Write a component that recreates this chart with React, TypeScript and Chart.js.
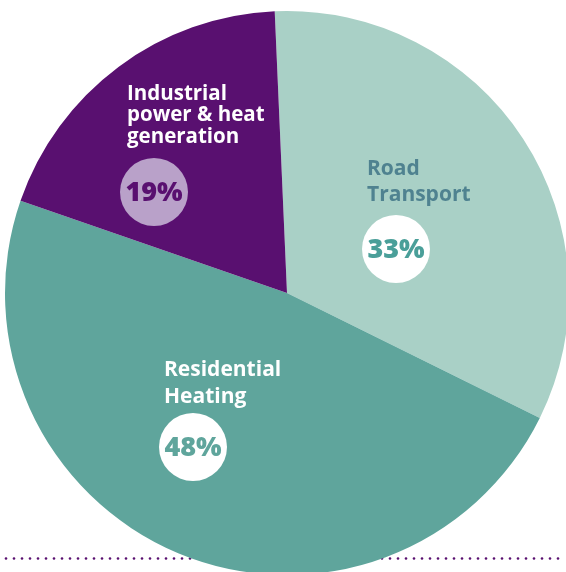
import React, { useEffect, useRef } from "react";
import { Chart, registerables } from "chart.js";

Chart.register(...registerables);

const categories = ["Road Transport", "Residential Heating", "Industrial power & heat generation"];
const labelLines = [["Road", "Transport"], ["Residential", "Heating"], ["Industrial", "power & heat", "generation"]];
const shares = [33, 48, 19];
const sliceColors = ["#a9d0c6", "#5fa59c", "#591070"];
const nameColors = ["#4f8290", "#ffffff", "#ffffff"];
const badgeFill = ["#ffffff", "#ffffff", "#b9a1c9"];
const badgeText = ["#4a9f99", "#5fa59c", "#591070"];
// label layout relative to pie center (px)
const textOffsets = [[80, -124], [-123, 77], [-160, -199]];
const lineGaps = [26, 27, 21.5];
const nameSizes = [21, 21, 20.5];
const badgeOffsets = [[109, -44], [-94, 154], [-133, -101]];

const labelPlugin = {
  id: "sliceLabels",
  beforeDraw(chart: any) {
    const ctx = chart.ctx;
    ctx.save();
    ctx.fillStyle = "#591070";
    for (let x = 6; x <= 564; x += 8) {
      ctx.beginPath();
      ctx.arc(x, 558.5, 1.3, 0, Math.PI * 2);
      ctx.fill();
    }
    ctx.restore();
  },
  afterDatasetsDraw(chart: any) {
    const ctx = chart.ctx;
    const arc = chart.getDatasetMeta(0).data[0];
    const cx = arc.x;
    const cy = arc.y;
    ctx.save();
    shares.forEach((v, i) => {
      const [tx, ty] = textOffsets[i];
      ctx.font = `bold ${nameSizes[i]}px 'Open Sans'`;
      ctx.fillStyle = nameColors[i];
      ctx.textAlign = "left";
      ctx.textBaseline = "middle";
      labelLines[i].forEach((line, j) => {
        ctx.fillText(line, cx + tx, cy + ty + j * lineGaps[i]);
      });
      const [bx, by] = badgeOffsets[i];
      ctx.beginPath();
      ctx.arc(cx + bx, cy + by, 34, 0, Math.PI * 2);
      ctx.fillStyle = badgeFill[i];
      ctx.fill();
      ctx.font = "800 27px 'Open Sans'";
      ctx.fillStyle = badgeText[i];
      ctx.textAlign = "center";
      ctx.fillText(v + "%", cx + bx, cy + by + 1);
    });
    ctx.restore();
  },
};

export default function App() {
  const ref = useRef<HTMLCanvasElement>(null);
  useEffect(() => {
    if (!ref.current) return;
    const chart = new Chart(ref.current, {
      type: "pie",
      data: {
        labels: categories,
        datasets: [
          {
            data: shares,
            backgroundColor: sliceColors,
            borderWidth: 0,
            hoverOffset: 0,
          },
        ],
      },
      options: {
        responsive: false,
        animation: false,
        rotation: -2.5,
        layout: { padding: { left: 5, top: 11, right: 0, bottom: 0 } },
        plugins: { legend: { display: false }, tooltip: { enabled: false } },
      },
      plugins: [labelPlugin],
    });
    return () => chart.destroy();
  }, []);
  return (
    <div
      style={{
        position: "fixed",
        left: 0,
        top: 0,
        width: 566,
        height: 572,
        overflow: "hidden",
        background: "#ffffff",
      }}
    >
      <canvas ref={ref} width={569} height={575} style={{ display: "block" }} />
    </div>
  );
}
